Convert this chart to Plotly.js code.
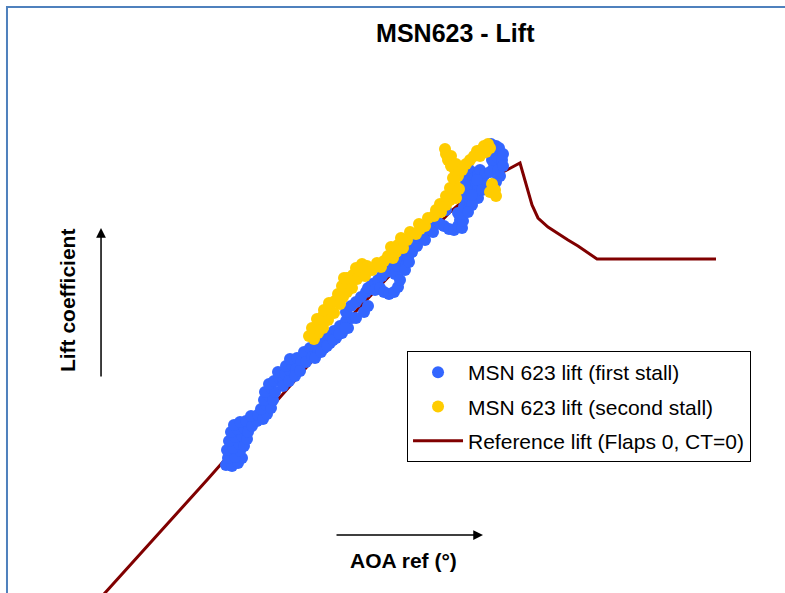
<!DOCTYPE html>
<html><head><meta charset="utf-8">
<script src="https://cdn.plot.ly/plotly-3.0.1.min.js"></script>
<style>html,body{margin:0;padding:0;background:#fff}#chart{width:785px;height:593px}</style>
</head><body><div id="chart"></div>
<script>
// Series names
const seriesNames = ["MSN 623 lift (first stall)", "MSN 623 lift (second stall)", "Reference lift (Flaps 0, CT=0)"];

// First stall (blue): AOA ref (deg) and lift coefficient
const firstAoa = [4.84,5.08,5.32,5.48,4.92,5.2,5.4,4.88,5.12,5.36,5.56,4.96,5.2,5.48,5.68,5.04,5.28,5.56,5.72,5.16,5.4,5.64,
  5.88,6.08,5.84,6.12,6.32,6.48,6.24,6.44,6.64,6.36,6.56,6.72,6.4,6.64,6.8,6.56,6.76,6.96,7.12,6.92,7.2,7.4,7.24,7.48,7.64,7.4,7.68,7.84,
  7.12,7.36,7.6,7.8,
  7.96,8.04,8.2,8.28,8.44,8.52,8.68,8.76,8.92,9.0,9.16,9.24,9.4,9.48,9.64,9.72,9.88,9.64,9.84,10.04,10.04,10.24,10.36,10.44,10.52,
  8.4,8.64,8.88,9.12,9.36,9.6,
  10.52,10.68,10.8,10.92,11.08,11.0,11.16,11.36,11.56,11.72,11.24,11.44,11.6,11.8,11.68,11.88,12.0,11.92,12.12,
  11.64,11.84,
  12.16,12.08,12.28,12.28,12.48,12.44,12.64,12.8,12.76,12.96,13.12,13.0,13.24,13.4,13.32,13.48,13.64,13.56,13.76,13.96,14.12,14.2,14.12,
  14.28,14.32,14.28,14.36,14.44,14.6,14.44,14.6,14.76,14.92,14.8,14.6,14.44,14.68,14.92,15.08,15.0,15.2,15.16,14.92,14.68,14.52,
  14.4,14.68,14.88,15.08,14.52,
  15.4,15.56,15.72,15.48,15.68,15.88,15.36,15.56,15.76,15.92,15.44,15.64,15.92,15.8,15.64,15.56];
const firstCl = [0.512,0.508,0.52,0.54,0.54,0.544,0.568,0.572,0.58,0.596,0.588,0.608,0.624,0.628,0.616,0.644,0.656,0.66,0.644,0.672,0.684,0.688,
  0.668,0.688,0.708,0.712,0.696,0.716,0.736,0.752,0.74,0.772,0.788,0.772,0.804,0.82,0.804,0.836,0.848,0.86,0.844,0.884,0.876,0.888,0.908,0.912,0.896,0.936,0.94,0.924,
  0.828,0.848,0.868,0.888,
  0.964,0.924,0.98,0.944,0.996,0.964,1.012,0.98,1.028,1.0,1.048,1.02,1.068,1.04,1.088,1.06,1.1,1.124,1.148,1.164,1.1,1.184,1.124,1.204,1.148,
  0.94,0.964,0.988,1.012,1.036,1.06,
  1.22,1.236,1.212,1.252,1.268,1.22,1.204,1.196,1.204,1.224,1.284,1.3,1.276,1.252,1.308,1.324,1.292,1.352,1.34,
  1.332,1.372,
  1.324,1.372,1.364,1.4,1.388,1.42,1.428,1.412,1.452,1.46,1.444,1.484,1.492,1.476,1.524,1.548,1.532,1.468,1.456,1.452,1.468,1.492,1.52,
  1.46,1.488,1.516,1.544,1.572,1.56,1.6,1.62,1.6,1.58,1.64,1.652,1.668,1.684,1.676,1.66,1.692,1.676,1.636,1.62,1.552,1.524,
  1.632,1.592,1.652,1.612,1.7,
  1.684,1.704,1.692,1.732,1.744,1.732,1.764,1.772,1.78,1.756,1.796,1.788,1.708,1.668,1.644,1.624];

// Second stall (yellow)
const secondAoa = [8.16,8.36,8.52,8.28,8.52,8.72,8.48,8.72,8.92,8.76,
  9.0,9.16,8.96,9.2,9.4,9.32,9.52,9.68,9.48,9.72,
  9.88,9.68,9.92,10.08,10.04,10.24,10.4,10.28,10.48,10.68,
  10.88,11.04,11.16,11.32,11.52,11.64,11.44,11.72,11.92,11.84,
  12.08,12.2,12.44,12.6,12.56,12.8,12.92,13.16,13.24,13.44,
  13.4,13.64,13.8,13.64,13.88,14.04,13.8,14.0,14.16,13.92,
  14.12,14.0,13.84,13.72,13.64,13.6,13.84,14.04,14.28,14.44,
  14.6,14.76,14.88,15.04,15.16,15.32,15.4,15.24,15.0,15.48,
  15.6,15.4,15.64,9.56];
const secondCl = [1.028,1.016,1.04,1.06,1.072,1.06,1.096,1.108,1.092,1.132,
  1.136,1.12,1.16,1.168,1.156,1.196,1.184,1.204,1.228,1.24,
  1.22,1.26,1.272,1.256,1.3,1.288,1.268,1.316,1.308,1.292,
  1.32,1.304,1.328,1.348,1.34,1.364,1.384,1.392,1.38,1.42,
  1.412,1.444,1.436,1.456,1.476,1.468,1.5,1.508,1.532,1.524,
  1.556,1.552,1.572,1.588,1.6,1.58,1.62,1.632,1.616,1.66,
  1.668,1.692,1.708,1.732,1.756,1.776,1.748,1.716,1.692,1.716,
  1.732,1.748,1.768,1.772,1.788,1.796,1.78,1.764,1.748,1.636,
  1.612,1.604,1.588,1.26];

// Reference lift curve
const refAoa = [-0.4, 4.08, 10.08, 13.8, 14.28, 15.92, 16.6, 17.08, 17.32, 17.72, 18.52, 18.92, 19.68, 24.44];
const refCl  = [-0.044, 0.452, 1.132, 1.524, 1.564, 1.684, 1.72, 1.552, 1.5, 1.464, 1.412, 1.388, 1.336, 1.336];

const FONT = "Liberation Sans, Arial, sans-serif";

const traces = [
  {x: refAoa, y: refCl, type: "scatter", mode: "lines", name: seriesNames[2], legendrank: 3, legendgroup: "c",
   line: {color: "#800000", width: 3}},
  {x: firstAoa, y: firstCl, type: "scatter", mode: "markers", name: seriesNames[0], legendrank: 1, legendgroup: "a",
   marker: {color: "#3366FF", size: 12, line: {width: 0}}},
  {x: secondAoa, y: secondCl, type: "scatter", mode: "markers", name: seriesNames[1], legendrank: 2, legendgroup: "b",
   marker: {color: "#FFCC00", size: 12, line: {width: 0}}}
];

const layout = {
  width: 785, height: 593,
  margin: {l: 0, r: 0, t: 0, b: 0, pad: 0},
  paper_bgcolor: "#ffffff", plot_bgcolor: "#ffffff",
  font: {family: FONT, color: "#000000"},
  title: {text: "MSN623 - Lift", x: 0.58, xanchor: "center", y: 0.944, yref: "container", yanchor: "middle",
          font: {family: FONT, size: 25, weight: "bold", color: "#000"}},
  xaxis: {range: [-4.2, 27.2], visible: false, showgrid: false, zeroline: false, fixedrange: true},
  yaxis: {range: [0, 2.372], visible: false, showgrid: false, zeroline: false, fixedrange: true},
  showlegend: true,
  legend: {x: 0.5185, y: 0.408, xanchor: "left", yanchor: "top", bgcolor: "#ffffff",
           bordercolor: "#000000", borderwidth: 1, itemwidth: 50, traceorder: "grouped", tracegroupgap: 4,
           font: {family: FONT, size: 21, color: "#000"}},
  shapes: [
    {type: "rect", xref: "paper", yref: "paper", x0: 0.0089, x1: 1.05, y0: -0.05, y1: 0.988,
     line: {color: "#4F81BD", width: 2}, fillcolor: "rgba(0,0,0,0)", layer: "above"}
  ],
  annotations: [
    {xref: "paper", yref: "paper", x: 0.1287, y: 0.6155, ax: 0, ay: 150, text: "", showarrow: true,
     arrowhead: 2, arrowsize: 1.3, arrowwidth: 1.5, arrowcolor: "#000", standoff: 0},
    {xref: "paper", yref: "paper", x: 0.6153, y: 0.0978, ax: -148, ay: 0, text: "", showarrow: true,
     arrowhead: 2, arrowsize: 1.3, arrowwidth: 1.5, arrowcolor: "#000", standoff: 0},
    {xref: "paper", yref: "paper", x: 0.0854, y: 0.494, xanchor: "center", yanchor: "middle",
     text: "Lift coefficient", textangle: -90, showarrow: false,
     font: {family: FONT, size: 21, weight: "bold", color: "#000"}},
    {xref: "paper", yref: "paper", x: 0.5146, y: 0.0556, xanchor: "center", yanchor: "middle",
     text: "AOA ref (°)", showarrow: false,
     font: {family: FONT, size: 21, weight: "bold", color: "#000"}}
  ]
};

Plotly.newPlot("chart", traces, layout, {displayModeBar: false, staticPlot: true});
</script></body></html>
